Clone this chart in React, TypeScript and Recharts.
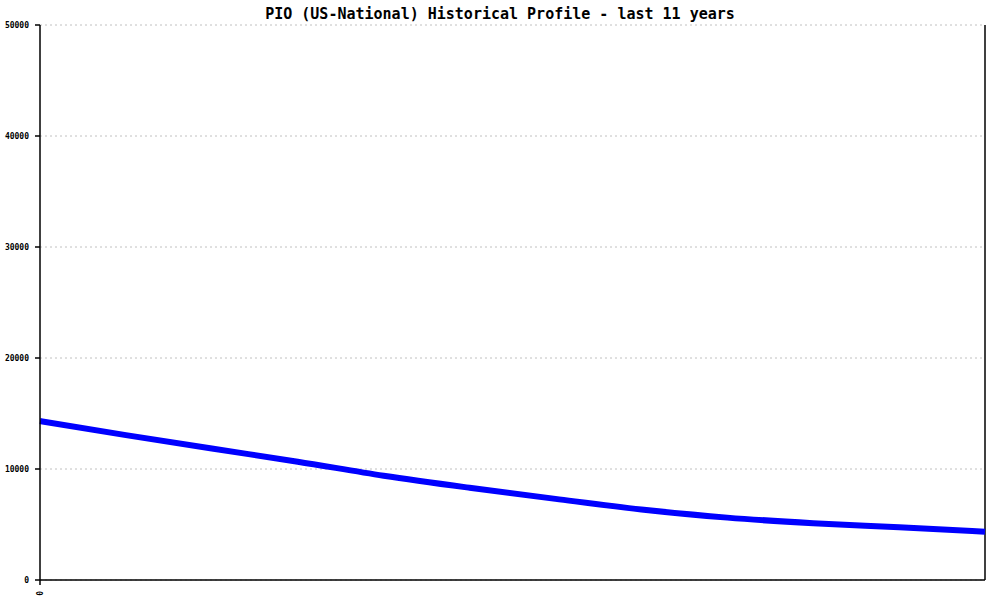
import React from "react";
import { LineChart, Line, XAxis, YAxis, CartesianGrid, ReferenceLine } from "recharts";

const years = [0, 1, 2, 3, 4, 5, 6, 7, 8, 9, 10, 11];
const profile = [14320, 13050, 11840, 10660, 9395, 8310, 7310, 6360, 5620, 5115, 4750, 4350];
const yTicks = [0, 10000, 20000, 30000, 40000, 50000];
const xTicks = [0];

const data = years.map((x, i) => ({ x, value: profile[i] }));

const mono = "'DejaVu Sans Mono', 'Liberation Mono', monospace";

function XTick(props: any) {
  const { x, y, payload } = props;
  return (
    <text
      x={0}
      y={0}
      transform={`translate(${x + 3},${y + 4}) rotate(-90)`}
      textAnchor="end"
      fontFamily={mono}
      fontSize={8}
      fontWeight="bold"
      fill="#000"
    >
      {payload.value}
    </text>
  );
}

export default function App() {
  return (
    <div style={{ position: "absolute", left: 0, top: 0, width: 1000, height: 600, background: "#fff" }}>
      <div
        style={{
          position: "absolute",
          left: 0,
          top: 5,
          width: 1000,
          textAlign: "center",
          fontFamily: mono,
          fontWeight: "bold",
          fontSize: 15,
          lineHeight: "18px",
          color: "#000",
        }}
      >
        PIO (US-National) Historical Profile - last 11 years
      </div>
      <LineChart width={1000} height={600} data={data} margin={{ top: 25, right: 15, bottom: 0, left: 0 }}>
        <CartesianGrid vertical={false} stroke="#c0c0c0" strokeDasharray="2 3" />
        <XAxis
          dataKey="x"
          type="number"
          domain={[0, 11]}
          ticks={xTicks}
          tick={<XTick />}
          tickSize={5}
          stroke="#000"
          strokeWidth={1.5}
          height={20}
        />
        <YAxis
          domain={[0, 50000]}
          ticks={yTicks}
          width={40}
          tickSize={5}
          tickMargin={6}
          stroke="#000"
          strokeWidth={1.5}
          tick={{ fontFamily: mono, fontSize: 8, fontWeight: "bold", fill: "#000" }}
          interval={0}
        />
        <ReferenceLine x={11} stroke="#000" strokeWidth={1.5} />
        <Line
          type="monotone"
          dataKey="value"
          stroke="#0000ff"
          strokeWidth={6}
          dot={false}
          isAnimationActive={false}
        />
      </LineChart>
    </div>
  );
}
